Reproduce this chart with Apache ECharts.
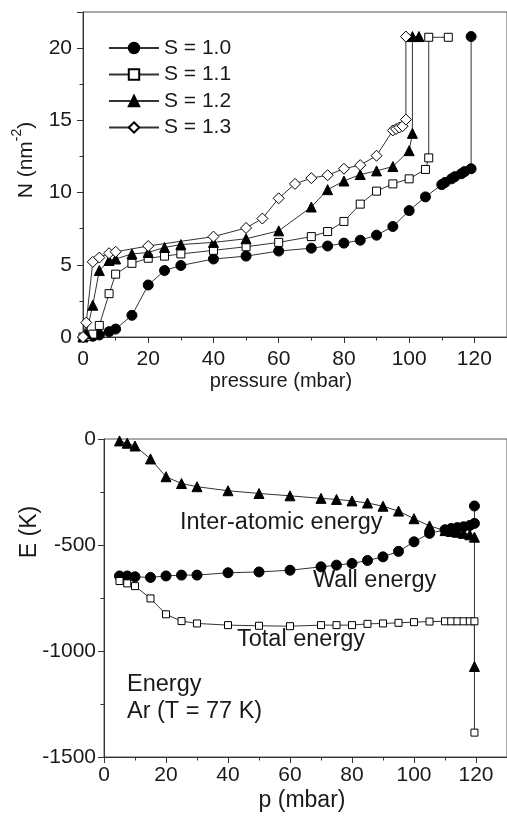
<!DOCTYPE html>
<html>
<head>
<meta charset="utf-8">
<script src="https://cdn.jsdelivr.net/npm/echarts@6/dist/echarts.min.js"></script>
<style>
html,body{margin:0;padding:0;background:#fff;}
#c{width:507px;height:820px;}
</style>
</head>
<body>
<div id="c"></div>
<script>
// ---- Top chart: N vs pressure ----
const seriesNames = ['S = 1.0', 'S = 1.1', 'S = 1.2', 'S = 1.3'];
const p10 = [3, 5, 8, 10, 15, 20, 25, 30, 40, 50, 60, 70, 75, 80, 85, 90, 95, 100, 105, 110, 111, 113, 114, 116, 117, 119, 119];
const n10 = [0.05, 0.14, 0.37, 0.55, 1.5, 3.6, 4.6, 4.95, 5.4, 5.6, 5.95, 6.15, 6.3, 6.5, 6.7, 7.05, 7.65, 8.75, 9.7, 10.55, 10.7, 10.95, 11.1, 11.3, 11.45, 11.65, 20.8];
const p11 = [0, 1, 3, 5, 8, 10, 15, 20, 25, 30, 40, 50, 60, 70, 75, 80, 85, 90, 95, 100, 105, 106, 106, 112];
const n11 = [0, 0.05, 0.2, 0.8, 3.0, 4.35, 5.1, 5.45, 5.6, 5.75, 6.0, 6.25, 6.55, 6.95, 7.3, 8.0, 9.2, 10.1, 10.6, 10.95, 11.6, 12.4, 20.75, 20.75];
const p12 = [0, 1, 3, 5, 8, 10, 15, 20, 25, 30, 40, 50, 60, 70, 75, 80, 85, 90, 95, 100, 101, 101, 103];
const n12 = [0, 0.25, 2.2, 4.6, 5.3, 5.4, 5.75, 5.85, 6.2, 6.4, 6.55, 6.8, 7.35, 9.0, 10.2, 10.8, 11.25, 11.5, 11.8, 12.9, 14.1, 20.8, 20.8];
const p13 = [0, 1, 3, 5, 8, 10, 20, 40, 50, 55, 60, 65, 70, 75, 80, 85, 90, 95, 96, 97, 98, 99, 99];
const n13 = [0, 1.0, 5.2, 5.5, 5.8, 5.9, 6.3, 6.95, 7.55, 8.2, 9.6, 10.6, 11.0, 11.2, 11.65, 11.9, 12.55, 14.3, 14.4, 14.5, 14.6, 15.05, 20.8];
const topXTicks = [0, 20, 40, 60, 80, 100, 120];
const topYTicks = [0, 5, 10, 15, 20];

// ---- Bottom chart: energies vs p ----
const pE = [5, 7.5, 10, 15, 20, 25, 30, 40, 50, 60, 70, 75, 80, 85, 90, 95, 100, 105, 110, 112, 114, 116, 118, 119.5, 119.5];
const eInter = [-9, -20, -33, -94, -178, -210, -225, -244, -257, -268, -280, -285, -292, -302, -317, -340, -376, -410, -432, -436, -440, -445, -452, -463, -1073];
const eWall = [-646, -646, -650, -653, -646, -642, -642, -631, -627, -619, -603, -595, -587, -573, -556, -530, -485, -445, -428, -422, -418, -414, -408, -398, -316];
const eTotal = [-670, -681, -694, -752, -827, -859, -870, -878, -881, -883, -878, -878, -878, -872, -870, -867, -864, -861, -860, -860, -860, -860, -860, -860, -1385];
const bottomYTicks = [0, -500, -1000, -1500];

const zip = (a, b) => a.map((v, i) => [v, b[i]]);
const FONT = 'Liberation Sans, Arial, Helvetica, sans-serif';
const TXT = '#1a1a1a';
const AX = '#333';

function axisCommon(showMax) {
  return {
    axisLine: {show: true, onZero: false, lineStyle: {color: AX, width: 1}},
    axisTick: {show: true, inside: false, length: 6, lineStyle: {color: AX, width: 1}},
    minorTick: {show: true, splitNumber: 2, length: 3.5, lineStyle: {color: AX, width: 1}},
    splitLine: {show: false},
    minorSplitLine: {show: false},
    axisLabel: {color: TXT, fontSize: 21, fontFamily: FONT, showMaxLabel: showMax,
      formatter: function (v) { return String(v); }}
  };
}

const lineSty = {color: '#333', width: 1};
function ser(name, data, symbol, size, filled, xi, yi) {
  return {
    type: 'line', name: name, data: data, xAxisIndex: xi, yAxisIndex: yi,
    symbol: symbol, symbolSize: size, showAllSymbol: true,
    lineStyle: lineSty,
    itemStyle: filled ? {color: '#000', borderColor: '#000', borderWidth: 1}
                      : {color: '#fff', borderColor: '#000', borderWidth: 1},
    animation: false, silent: true, clip: false, z: 3
  };
}

const chart = echarts.init(document.getElementById('c'), null, {renderer: 'canvas'});
const option = {
  backgroundColor: '#fff',
  animation: false,
  grid: [
    {left: 83, right: -5, top: 12, bottom: 483, show: true, borderColor: '#555', borderWidth: 1, backgroundColor: 'transparent'},
    {left: 104, right: -4, top: 439, bottom: 63, show: true, borderColor: '#555', borderWidth: 1, backgroundColor: 'transparent'}
  ],
  xAxis: [
    Object.assign(axisCommon(false), {type: 'value', gridIndex: 0, min: topXTicks[0], max: 130, interval: 20}),
    Object.assign(axisCommon(false), {type: 'value', gridIndex: 1, min: 0, max: 130, interval: 20})
  ],
  yAxis: [
    Object.assign(axisCommon(false), {type: 'value', gridIndex: 0, min: topYTicks[0], max: 22.5, interval: 5}),
    Object.assign(axisCommon(true), {type: 'value', gridIndex: 1, min: bottomYTicks[3], max: bottomYTicks[0], interval: 500})
  ],
  legend: {
    data: seriesNames, orient: 'vertical', left: 108, top: 37, padding: 0,
    itemWidth: 50, itemHeight: 13, itemGap: 4.5,
    textStyle: {fontSize: 21, color: TXT, fontFamily: FONT, lineHeight: 22},
    selectedMode: false
  },
  series: [
    ser(seriesNames[0], zip(p10, n10), 'circle', 10, true, 0, 0),
    ser(seriesNames[1], zip(p11, n11), 'rect', 8, false, 0, 0),
    ser(seriesNames[2], zip(p12, n12), 'triangle', 10, true, 0, 0),
    ser(seriesNames[3], zip(p13, n13), 'diamond', 11, false, 0, 0),
    ser('Inter-atomic energy', zip(pE, eInter), 'triangle', 10, true, 1, 1),
    ser('Wall energy', zip(pE, eWall), 'circle', 10, true, 1, 1),
    ser('Total energy', zip(pE, eTotal), 'rect', 7, false, 1, 1)
  ],
  graphic: [
    {type: 'text', x: 281, y: 381, style: {text: 'pressure (mbar)', fontSize: 20, fontFamily: FONT, fill: TXT, align: 'center', verticalAlign: 'middle'}},
    {type: 'text', x: 26, y: 160, rotation: Math.PI / 2,
      style: {text: '{a|N (nm}{s|-2}{a|)}', align: 'center', verticalAlign: 'middle', fill: TXT,
        rich: {a: {fontSize: 21, fontFamily: FONT, fill: TXT, lineHeight: 32},
               s: {fontSize: 14, fontFamily: FONT, fill: TXT, lineHeight: 14, verticalAlign: 'top'}}}},
    {type: 'text', x: 302, y: 801, style: {text: 'p (mbar)', fontSize: 23, fontFamily: FONT, fill: TXT, align: 'center', verticalAlign: 'middle'}},
    {type: 'text', x: 30, y: 532, rotation: Math.PI / 2, style: {text: 'E (K)', fontSize: 23, fontFamily: FONT, fill: TXT, align: 'center', verticalAlign: 'middle'}},
    {type: 'text', x: 180, y: 523, style: {text: 'Inter-atomic energy', fontSize: 23.5, fontFamily: FONT, fill: TXT, align: 'left', verticalAlign: 'middle'}},
    {type: 'text', x: 313, y: 581, style: {text: 'Wall energy', fontSize: 23.5, fontFamily: FONT, fill: TXT, align: 'left', verticalAlign: 'middle'}},
    {type: 'text', x: 237, y: 640, style: {text: 'Total energy', fontSize: 23.5, fontFamily: FONT, fill: TXT, align: 'left', verticalAlign: 'middle'}},
    {type: 'text', x: 127, y: 685, style: {text: 'Energy', fontSize: 23.5, fontFamily: FONT, fill: TXT, align: 'left', verticalAlign: 'middle'}},
    {type: 'text', x: 127, y: 712, style: {text: 'Ar (T = 77 K)', fontSize: 23.5, fontFamily: FONT, fill: TXT, align: 'left', verticalAlign: 'middle'}}
  ]
};
option.xAxis[0].axisLabel.margin = 12;
option.xAxis[1].axisLabel.margin = 8;
option.yAxis[0].axisLabel.margin = 11;
option.yAxis[1].axisLabel.margin = 8;
chart.setOption(option);
</script>
</body>
</html>
